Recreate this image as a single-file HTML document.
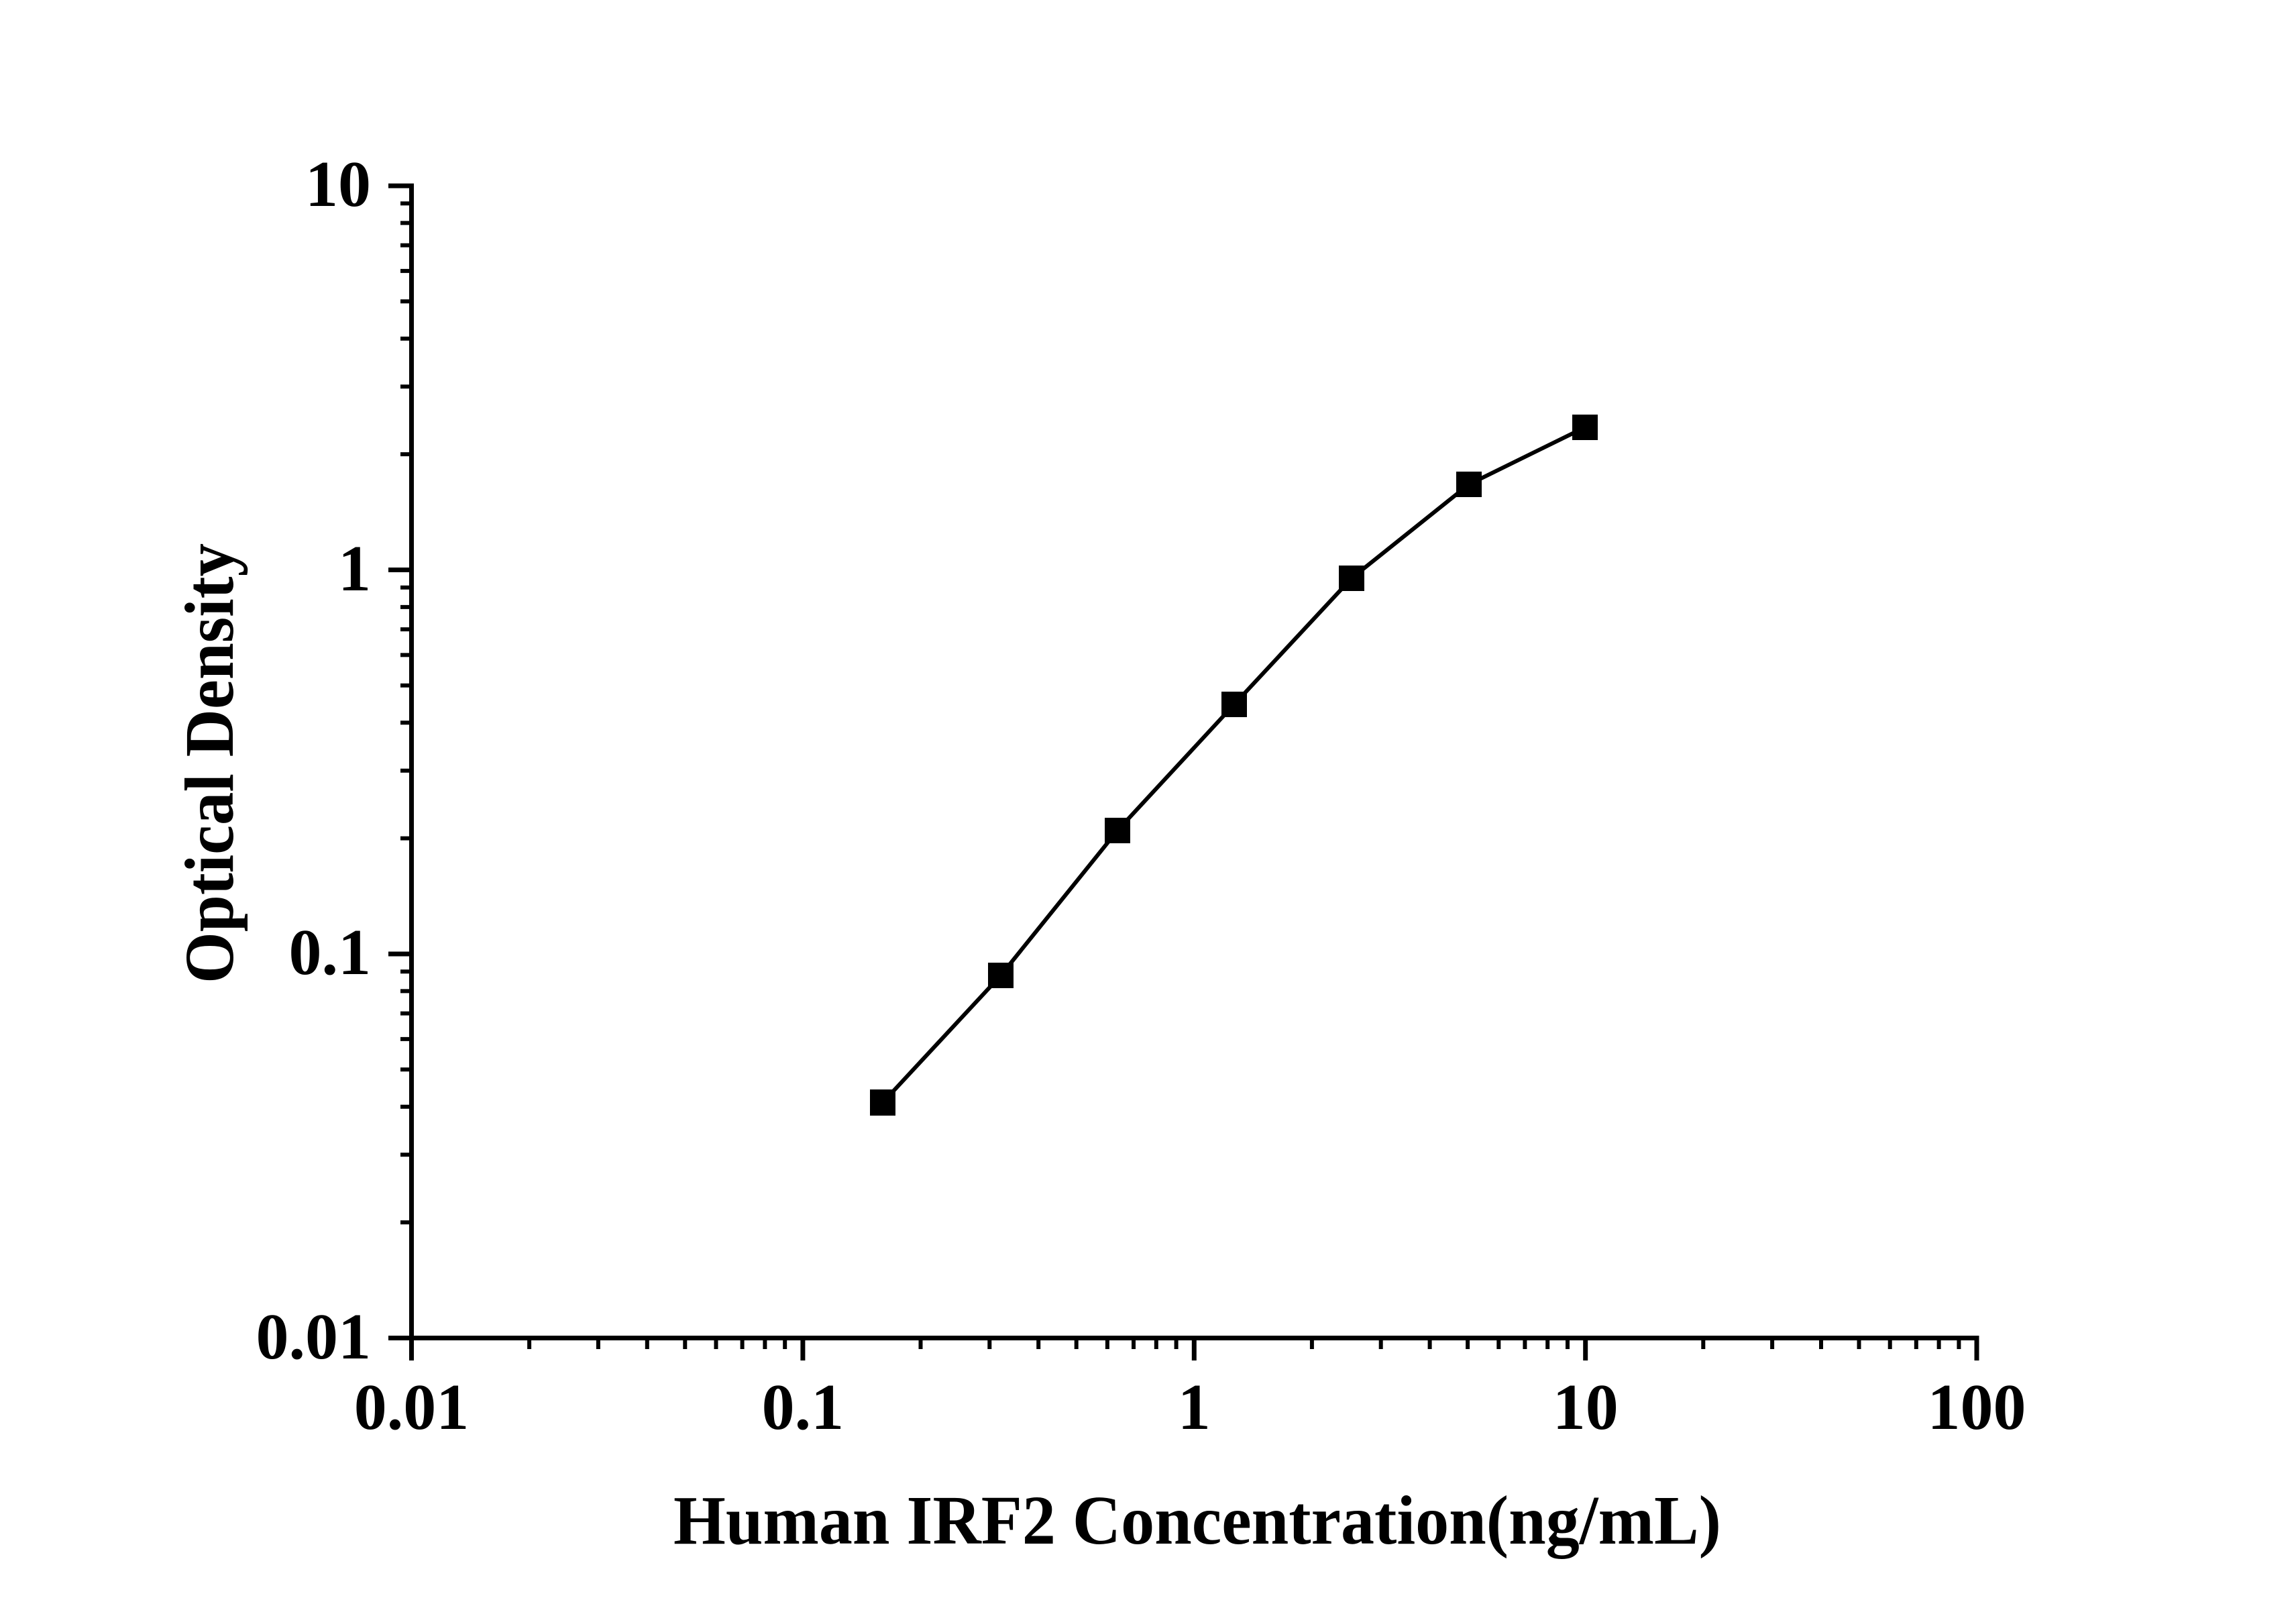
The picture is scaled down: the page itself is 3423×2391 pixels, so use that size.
<!DOCTYPE html>
<html><head><meta charset="utf-8"><style>
html,body{margin:0;padding:0;background:#fff;}
svg{display:block;}
text{font-family:"Liberation Serif",serif;font-weight:bold;fill:#000;}
</style></head><body>
<svg width="3423" height="2391" viewBox="0 0 3423 2391" xmlns="http://www.w3.org/2000/svg">
<g stroke="#000" stroke-width="7" fill="none" stroke-linecap="butt">
<line x1="613.5" y1="273.5" x2="613.5" y2="2028"/>
<line x1="579" y1="1994.5" x2="2950.5" y2="1994.5"/>
<line x1="2947" y1="1994.5" x2="2947" y2="2028"/>
<line x1="579" y1="277" x2="613" y2="277"/>
<line x1="579" y1="849.5" x2="613" y2="849.5"/>
<line x1="579" y1="1422" x2="613" y2="1422"/>
<line x1="1196.9" y1="1994" x2="1196.9" y2="2028"/>
<line x1="1780.3" y1="1994" x2="1780.3" y2="2028"/>
<line x1="2363.7" y1="1994" x2="2363.7" y2="2028"/>
</g>
<g stroke="#000" stroke-width="6">
<path d="
M597 1822.1H613 M597 1721.2H613 M597 1649.7H613 M597 1594.2H613 M597 1548.9H613 M597 1510.6H613 M597 1477.4H613 M597 1448.2H613
M597 1249.6H613 M597 1148.7H613 M597 1077.2H613 M597 1021.7H613 M597 976.4H613 M597 938.1H613 M597 904.9H613 M597 875.7H613
M597 677.1H613 M597 576.2H613 M597 504.7H613 M597 449.2H613 M597 403.9H613 M597 365.6H613 M597 332.4H613 M597 303.2H613
M789.1 1994V2011 M891.9 1994V2011 M964.8 1994V2011 M1021.3 1994V2011 M1067.5 1994V2011 M1106.6 1994V2011 M1140.4 1994V2011 M1170.2 1994V2011
M1372.5 1994V2011 M1475.3 1994V2011 M1548.2 1994V2011 M1604.7 1994V2011 M1650.9 1994V2011 M1690.0 1994V2011 M1723.8 1994V2011 M1753.6 1994V2011
M1955.9 1994V2011 M2058.7 1994V2011 M2131.6 1994V2011 M2188.1 1994V2011 M2234.3 1994V2011 M2273.4 1994V2011 M2307.2 1994V2011 M2337.0 1994V2011
M2539.3 1994V2011 M2642.1 1994V2011 M2715.0 1994V2011 M2771.5 1994V2011 M2817.7 1994V2011 M2856.8 1994V2011 M2890.6 1994V2011 M2920.4 1994V2011"/>
</g>
<polyline fill="none" stroke="#000" stroke-width="6" points="1316,1643.5 1492,1454 1666,1238 1840,1050 2015,862 2190,722 2363,637"/>
<g fill="#000">
<rect x="1297" y="1624" width="38" height="39"/>
<rect x="1473" y="1435" width="38" height="38"/>
<rect x="1647" y="1219" width="38" height="38"/>
<rect x="1821" y="1031" width="38" height="38"/>
<rect x="1996" y="843" width="38" height="38"/>
<rect x="2171" y="703" width="38" height="38"/>
<rect x="2344" y="618" width="38" height="38"/>
</g>
<g font-size="98" text-anchor="end">
<text x="553" y="307">10</text>
<text x="553" y="880">1</text>
<text x="553" y="1452">0.1</text>
<text x="553" y="2025">0.01</text>
</g>
<g font-size="98" text-anchor="middle">
<text x="613.5" y="2130">0.01</text>
<text x="1196.9" y="2130">0.1</text>
<text x="1780.3" y="2130">1</text>
<text x="2363.7" y="2130">10</text>
<text x="2947" y="2130">100</text>
</g>
<text x="1004" y="2301" font-size="104" textLength="1562" lengthAdjust="spacingAndGlyphs">Human IRF2 Concentration(ng/mL)</text>
<text transform="translate(347,1466) rotate(-90)" x="0" y="0" font-size="104" textLength="656" lengthAdjust="spacingAndGlyphs">Optical Density</text>
</svg>
</body></html>
